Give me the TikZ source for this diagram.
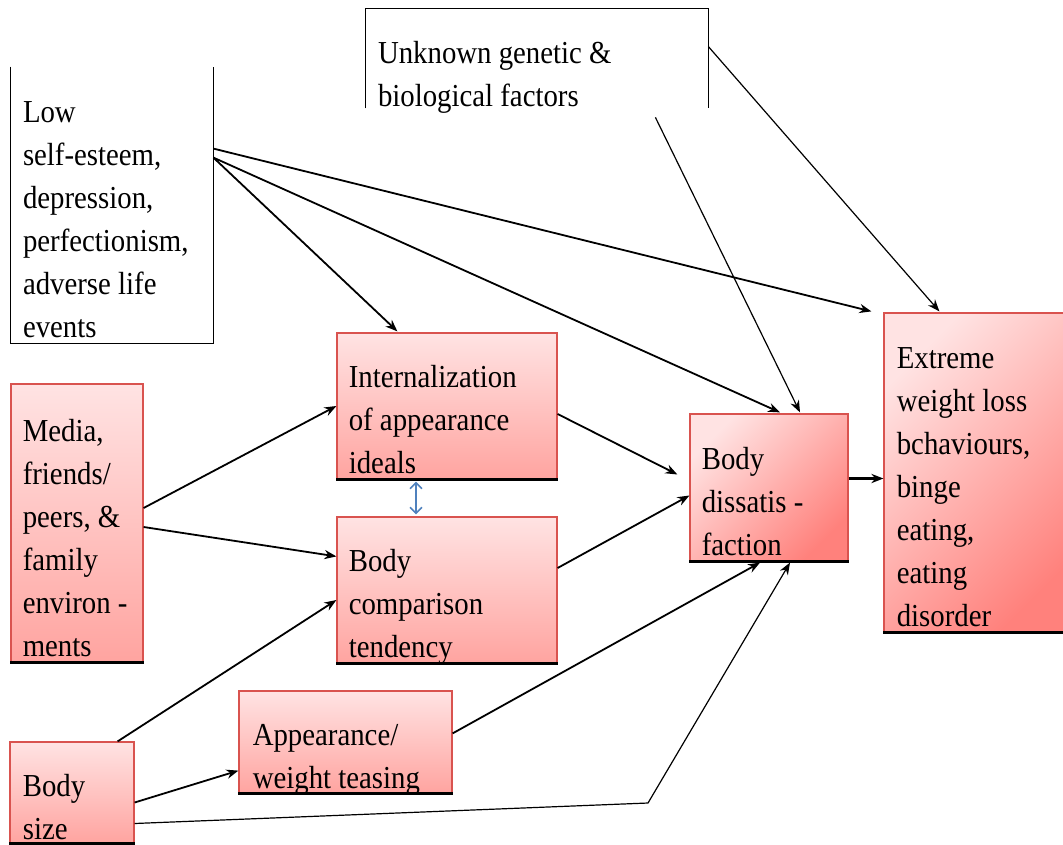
\documentclass[tikz,border=0pt]{standalone}
\usepackage{fontspec}
\setmainfont{Liberation Serif}[FakeStretch=0.9]
\usetikzlibrary{arrows.meta,fit}

\definecolor{pinktop}{HTML}{FFE3E3}
\definecolor{pinkbot}{HTML}{FFA4A0}
\definecolor{pinkdeep}{HTML}{FF817C}
\definecolor{boxred}{HTML}{D9534F}
\definecolor{linkblue}{HTML}{4F81BD}

\tikzset{
  pinkbox/.style={draw=boxred, line width=0.6pt, top color=pinktop, bottom color=pinkbot, inner sep=0pt},
  slantbox/.style={pinkbox, bottom color=pinkdeep, shading angle=45},
  plainbox/.style={inner sep=0pt},
  boxtxt/.style={anchor=south west, inner sep=0pt, align=left, text depth=0pt,
    font=\fontsize{16}{21.5}\selectfont},
  baseln/.style={line width=1.7pt},
  link/.style={-{Stealth[length=6pt,width=4.6pt]}, line width=0.9pt},
  thinlink/.style={link, line width=0.6pt},
}

\begin{document}
\begin{tikzpicture}[x=0.5pt,y=-0.5pt]
\useasboundingbox (0,0) rectangle (1063,844);

% boxes
\node[plainbox, fit={(11,67) (213,343)}]   (low)     {};
\node[plainbox, fit={(366,9) (708,108)}]   (gene)    {};
\node[pinkbox,  fit={(11,384) (143,662)}]  (media)   {};
\node[pinkbox,  fit={(337,333) (557,479)}] (intern)  {};
\node[pinkbox,  fit={(337,517) (557,663)}] (compar)  {};
\node[slantbox, fit={(690,414) (848,561)}] (dissat)  {};
\node[slantbox, fit={(884,313) (1075,632)}](extreme) {};
\node[pinkbox,  fit={(239,691) (452,793)}] (tease)   {};
\node[pinkbox,  fit={(10,742) (134,843)}]  (size)    {};

\draw[line width=0.6pt] (low.north west) -- (low.south west) -- (low.south east) -- (low.north east);
\draw[line width=0.6pt] (gene.south west) -- (gene.north west) -- (gene.north east) -- (gene.south east);
\foreach \b in {media,intern,compar,dissat,extreme,tease,size}
  \draw[baseln] (\b.south west) -- (\b.south east);

% texts
\node[boxtxt] (low-t)     at ([shift={(12,-6)}]low.south west)     {Low\\self-esteem,\\depression,\\perfectionism,\\adverse life\\events};
\node[boxtxt] (gene-t)    at ([shift={(12,-1)}]gene.south west)    {Unknown genetic \&\\biological factors};
\node[boxtxt] (media-t)   at ([shift={(12,-6)}]media.south west)   {Media,\\friends/\\peers, \&\\family\\environ -\\ments};
\node[boxtxt] (intern-t)  at ([shift={(12,-6)}]intern.south west)  {Internalization\\of appearance\\ideals};
\node[boxtxt] (compar-t)  at ([shift={(12,-6)}]compar.south west)  {Body\\comparison\\tendency};
\node[boxtxt] (dissat-t)  at ([shift={(12,-6)}]dissat.south west)  {Body\\dissatis -\\faction};
\node[boxtxt] (extreme-t) at ([shift={(13,-6)}]extreme.south west) {Extreme\\weight loss\\bchaviours,\\binge\\eating,\\eating\\disorder};
\node[boxtxt] (tease-t)   at ([shift={(14,-5)}]tease.south west)   {Appearance/\\weight teasing};
\node[boxtxt] (size-t)    at ([shift={(13,-4)}]size.south west)    {Body\\size};

% connectors
\coordinate (kink) at (648,803);
\draw[link] ([shift={(0,82)}]low.north east) -- ([shift={(-12,-1)}]extreme.north west);
\draw[link] ([shift={(0,91)}]low.north east) -- ([shift={(11,-1)}]dissat.north);
\draw[link] ([shift={(0,91)}]low.north east) -- ([shift={(61,-1)}]intern.north west);
\draw[thinlink] ([shift={(-53,9)}]gene.south east) -- ([shift={(31,-1)}]dissat.north);
\draw[thinlink] ([shift={(0,38)}]gene.north east) -- ([shift={(56,-1)}]extreme.north west);
\draw[link] ([shift={(0,-15)}]media.east) -- (intern.west);
\draw[link] ([shift={(0,4)}]media.east) -- ([shift={(0,40)}]compar.north west);
\draw[link] ([shift={(-17,0)}]size.north east) -- ([shift={(0,10)}]compar.west);
\draw[link] ([shift={(0,10)}]size.east) -- ([shift={(0,-23)}]tease.south west);
\draw[thinlink] ([shift={(0,31)}]size.east) -- (kink) -- ([shift={(21,1)}]dissat.south);
\draw[link] ([shift={(0,43)}]tease.north east) -- ([shift={(-9,1)}]dissat.south);
\draw[link] ([shift={(0,8)}]intern.east) -- ([shift={(-12,-13)}]dissat.west);
\draw[link] ([shift={(0,-22)}]compar.east) -- ([shift={(0,8)}]dissat.west);
\draw[link, line width=1.4pt] ([shift={(0,-9)}]dissat.east) -- ([shift={(0,6)}]extreme.west);
\draw[{Straight Barb[length=3pt]}-{Straight Barb[length=3pt]}, linkblue, line width=0.8pt]
  ([shift={(-31,2)}]intern.south) -- ([shift={(-31,-2)}]compar.north);
\end{tikzpicture}
\end{document}
